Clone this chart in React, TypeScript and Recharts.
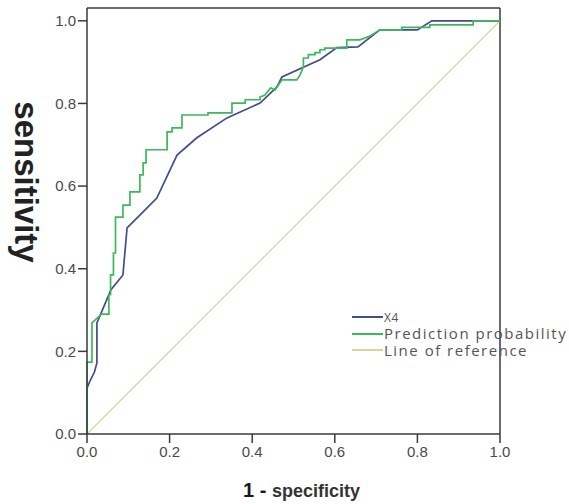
import { LineChart, Line, XAxis, YAxis, ReferenceLine } from 'recharts';

// ROC curve points (1 - specificity, sensitivity)
const x4Fpr = [0, 0, 0.008, 0.018, 0.024, 0.024, 0.058, 0.087, 0.097, 0.14, 0.169, 0.218, 0.266, 0.339, 0.419, 0.46, 0.472, 0.564, 0.605, 0.656, 0.709, 0.8, 0.835, 1];
const x4Tpr = [0, 0.111, 0.13, 0.15, 0.172, 0.269, 0.349, 0.385, 0.499, 0.542, 0.571, 0.675, 0.717, 0.765, 0.801, 0.84, 0.864, 0.906, 0.935, 0.937, 0.978, 0.978, 1, 1];

const predFpr = [0, 0, 0.012, 0.012, 0.022, 0.035, 0.053, 0.053, 0.057, 0.057, 0.064, 0.064, 0.069, 0.069, 0.087, 0.087, 0.104, 0.104, 0.128, 0.128, 0.136, 0.136, 0.143, 0.143, 0.194, 0.194, 0.206, 0.206, 0.23, 0.23, 0.293, 0.293, 0.351, 0.351, 0.383, 0.383, 0.419, 0.419, 0.43, 0.445, 0.455, 0.472, 0.508, 0.516, 0.524, 0.524, 0.536, 0.536, 0.552, 0.552, 0.564, 0.564, 0.576, 0.576, 0.629, 0.629, 0.661, 0.685, 0.709, 0.762, 0.762, 0.83, 0.83, 0.935, 0.935, 1];
const predTpr = [0, 0.174, 0.174, 0.269, 0.278, 0.29, 0.29, 0.337, 0.337, 0.385, 0.385, 0.438, 0.438, 0.525, 0.525, 0.554, 0.554, 0.586, 0.586, 0.627, 0.627, 0.656, 0.656, 0.688, 0.688, 0.731, 0.731, 0.741, 0.741, 0.772, 0.772, 0.777, 0.777, 0.801, 0.801, 0.809, 0.809, 0.816, 0.82, 0.838, 0.832, 0.857, 0.857, 0.869, 0.889, 0.91, 0.91, 0.918, 0.918, 0.923, 0.923, 0.93, 0.93, 0.934, 0.934, 0.954, 0.954, 0.963, 0.978, 0.978, 0.984, 0.984, 0.99, 0.99, 1, 1];

const refFpr = [0, 1];
const refTpr = [0, 1];

const ticks = [0, 0.2, 0.4, 0.6, 0.8, 1.0];

const toPoints = (xs: number[], ys: number[]) => xs.map((x, i) => ({ x, y: ys[i] }));

const x4Data = toPoints(x4Fpr, x4Tpr);
const predData = toPoints(predFpr, predTpr);
const refData = toPoints(refFpr, refTpr);

const BLUE = '#434c8c';
const GREEN = '#3db85a';
const REF = '#d8d5a2';
const AXIS = '#3a3a3a';

const tickStyle = { fontSize: 15, fill: '#4a4a4a', fontFamily: 'Liberation Sans, Arial, sans-serif' };

const legendItems = [
  { name: 'X4', color: BLUE, size: 12, spacing: 0.5 },
  { name: 'Prediction probability', color: GREEN, size: 15, spacing: 1.5 },
  { name: 'Line of reference', color: REF, size: 15, spacing: 1.5 },
];

export default function App() {
  return (
    <div style={{ position: 'absolute', left: 0, top: 0, width: 569, height: 504, background: '#fff', overflow: 'hidden' }}>
      <LineChart width={569} height={504} margin={{ top: 8, right: 69, bottom: 0, left: 0 }}>
        <XAxis
          type="number"
          dataKey="x"
          domain={[0, 1]}
          ticks={ticks}
          tickFormatter={(v: number) => v.toFixed(1)}
          height={70}
          stroke={AXIS}
          strokeWidth={1.5}
          tickSize={9}
          tickMargin={3}
          tick={tickStyle}
        />
        <YAxis
          type="number"
          dataKey="y"
          domain={[0, 1.031]}
          ticks={ticks}
          tickFormatter={(v: number) => v.toFixed(1)}
          width={87}
          stroke={AXIS}
          strokeWidth={1.5}
          tickSize={9}
          tickMargin={2}
          tick={tickStyle}
        />
        <ReferenceLine y={1.031} stroke={AXIS} strokeWidth={1.5} />
        <ReferenceLine x={1} stroke={AXIS} strokeWidth={1.5} />
        <Line data={refData} dataKey="y" type="linear" stroke={REF} strokeWidth={1.3} dot={false} isAnimationActive={false} />
        <Line data={x4Data} dataKey="y" type="linear" stroke={BLUE} strokeWidth={1.7} dot={false} isAnimationActive={false} />
        <Line data={predData} dataKey="y" type="linear" stroke={GREEN} strokeWidth={1.7} dot={false} isAnimationActive={false} />
      </LineChart>

      {/* y axis title */}
      <div
        style={{
          position: 'absolute',
          left: 26,
          top: 182,
          transform: 'translate(-50%, -50%) rotate(90deg)',
          fontFamily: 'Liberation Sans, Arial, sans-serif',
          fontWeight: 'bold',
          fontSize: 33,
          color: '#222',
          whiteSpace: 'nowrap',
        }}
      >
        sensitivity
      </div>

      {/* x axis title */}
      <div
        style={{
          position: 'absolute',
          left: 243,
          top: 479,
          fontFamily: 'Liberation Sans, Arial, sans-serif',
          fontWeight: 'bold',
          color: '#1a1a1a',
          whiteSpace: 'nowrap',
        }}
      >
        <span style={{ fontSize: 20 }}>1 - </span>
        <span style={{ fontSize: 18, color: '#333' }}>specificity</span>
      </div>

      {/* legend */}
      <div style={{ position: 'absolute', left: 352, top: 309 }}>
        {legendItems.map((item) => (
          <div key={item.name} style={{ display: 'flex', alignItems: 'center', height: 16.5 }}>
            <div style={{ width: 31, height: 2, background: item.color }} />
            <span
              style={{
                fontFamily: 'Open Sans, sans-serif',
                fontSize: item.size,
                letterSpacing: item.spacing,
                color: '#555',
                whiteSpace: 'nowrap',
                marginLeft: 1,
                lineHeight: '15px',
              }}
            >
              {item.name}
            </span>
          </div>
        ))}
      </div>
    </div>
  );
}
